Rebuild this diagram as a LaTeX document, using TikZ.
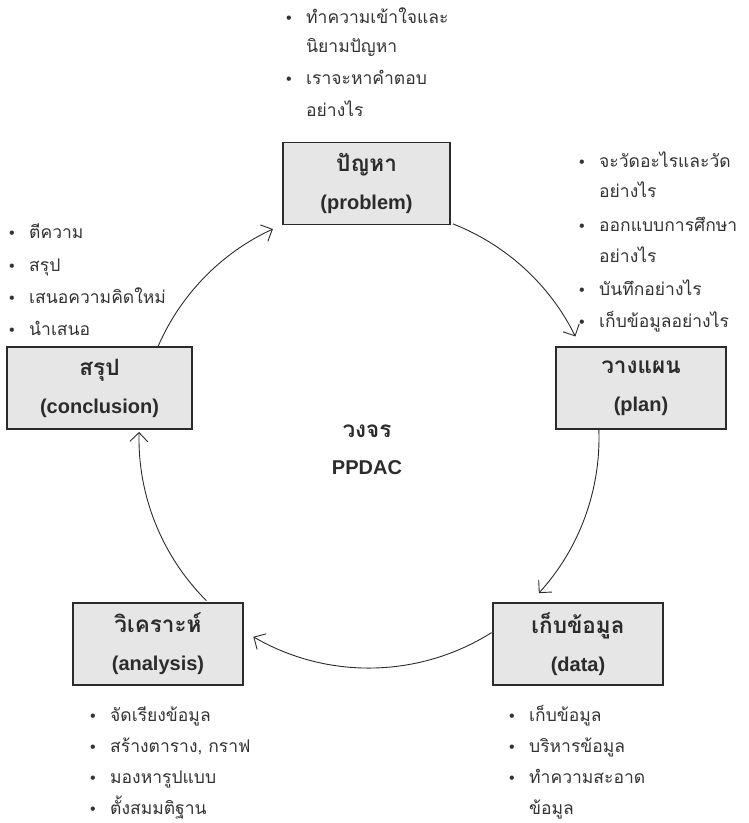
\documentclass[tikz,border=0pt]{standalone}
\usepackage{fontspec}
\setmainfont{Liberation Sans}
\newfontfamily\thai[Script=Thai]{Loma}
\usetikzlibrary{arrows.meta,calc}
\definecolor{ink}{HTML}{2B2B2B}
\definecolor{boxfill}{HTML}{E6E6E6}
\definecolor{txt}{HTML}{333333}
\tikzset{
  stagebox/.style={draw=ink, line width=1.6pt, fill=boxfill, minimum height=82pt,
    inner sep=0pt, align=center, text=ink, font=\bfseries\fontsize{20}{38}\selectfont},
  cycarrow/.style={draw=ink, line width=0.9pt, -{Straight Barb[length=9pt,width=18pt,line width=0.9pt]}},
  listline/.style={anchor=base west, inner sep=0pt, text=txt, font=\thai\fontsize{17.5}{17.5}\selectfont},
  centretext/.style={anchor=base, inner sep=0pt, text=ink, font=\bfseries\fontsize{20}{20}\selectfont}
}
\newcommand{\bul}{\makebox[20pt][l]{\fontspec{Liberation Sans}\fontsize{16}{16}\selectfont•}}
\newcommand{\thaititle}[1]{{\thai\fontsize{22.5}{38}\selectfont #1}}
\begin{document}
\begin{tikzpicture}[x=1pt,y=-1pt]
\useasboundingbox (0,0) rectangle (748,823);
% boxes
\node[stagebox, minimum width=167pt] (prob) at (366.5,183.5) {\thaititle{ปัญหา}\\(problem)};
\node[stagebox, minimum width=185pt] (concl) at (99.5,388) {\thaititle{สรุป}\\(conclusion)};
\node[stagebox, minimum width=170pt] (plan) at (641,388) {\thaititle{วางแผน}\\(plan)};
\node[stagebox, minimum width=170pt] (anal) at (158,644) {\thaititle{วิเคราะห์}\\(analysis)};
\node[stagebox, minimum width=170pt] (data) at (578,644) {\thaititle{เก็บข้อมูล}\\(data)};
% centre
\node[centretext] (cyc1) at (367,437) {\thaititle{วงจร}};
\node[centretext] (cyc2) at (367,474) {PPDAC};
% cycle arcs
\coordinate (ctr) at (369,438);
\coordinate (s1) at ($(ctr)+(-156.4:230)$);
\coordinate (s2) at ($(ctr)+(-68.6:230)$);
\coordinate (s3) at ($(ctr)+(-2:230)$);
\coordinate (s4) at ($(ctr)+(57.8:230)$);
\coordinate (s5) at ($(ctr)+(135:230)$);
\draw[cycarrow] (s1) arc[start angle=-156.4, end angle=-114.7, radius=230];
\draw[cycarrow] (s2) arc[start angle=-68.6, end angle=-26.2, radius=230];
\draw[cycarrow] (s3) arc[start angle=-2, end angle=42.4, radius=230];
\draw[cycarrow] (s4) arc[start angle=57.8, end angle=120.2, radius=230];
\draw[cycarrow] (s5) arc[start angle=135, end angle=181.5, radius=230];
% top list
\node[listline] (t1) at (286,23) {\bul ทำความเข้าใจและ};
\node[listline] (t2) at (306,52) {นิยามปัญหา};
\node[listline] (t3) at (286,84) {\bul เราจะหาคำตอบ};
\node[listline] (t4) at (306,116) {อย่างไร};
% right list
\node[listline] (r1) at (579,167) {\bul จะวัดอะไรและวัด};
\node[listline] (r2) at (599,197) {อย่างไร};
\node[listline] (r3) at (579,231) {\bul ออกแบบการศึกษา};
\node[listline] (r4) at (599,262) {อย่างไร};
\node[listline] (r5) at (579,295) {\bul บันทึกอย่างไร};
\node[listline] (r6) at (579,327) {\bul เก็บข้อมูลอย่างไร};
% left list
\node[listline] (l1) at (9,238) {\bul ตีความ};
\node[listline] (l2) at (9,271) {\bul สรุป};
\node[listline] (l3) at (9,303) {\bul เสนอความคิดใหม่};
\node[listline] (l4) at (9,335) {\bul นำเสนอ};
% analysis list
\node[listline] (a1) at (90,721) {\bul จัดเรียงข้อมูล};
\node[listline] (a2) at (90,752) {\bul สร้างตาราง, กราฟ};
\node[listline] (a3) at (90,783.5) {\bul มองหารูปแบบ};
\node[listline] (a4) at (90,814.5) {\bul ตั้งสมมติฐาน};
% data list
\node[listline] (d1) at (509,721) {\bul เก็บข้อมูล};
\node[listline] (d2) at (509,752) {\bul บริหารข้อมูล};
\node[listline] (d3) at (509,783.5) {\bul ทำความสะอาด};
\node[listline] (d4) at (529,814.5) {ข้อมูล};
\end{tikzpicture}
\end{document}
